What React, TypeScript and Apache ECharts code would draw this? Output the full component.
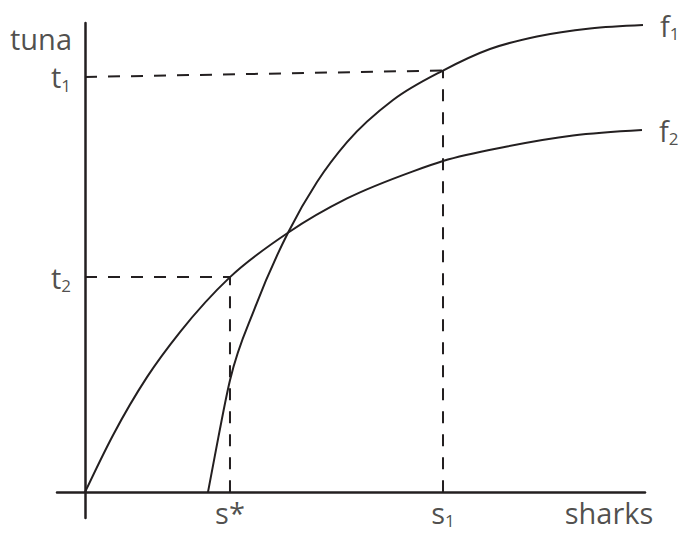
import React, { useEffect, useRef } from "react";
import * as echarts from "echarts";

// Curve f1 (x = sharks, y = tuna) (arbitrary units 0-100)
const f1X = [21.96, 23.21, 25.89, 30.36, 36.25, 41.43, 46.79, 55.0, 63.93, 72.32, 80.71, 90.18, 99.64];
const f1Y = [0, 7.89, 23.88, 39.34, 55.3, 66.1, 74.6, 83.58, 89.87, 94.46, 97.12, 98.83, 99.57];

// Curve f2
const f2X = [0, 5.0, 11.07, 16.96, 25.89, 36.25, 46.79, 58.57, 63.93, 75.36, 87.14, 99.46];
const f2Y = [0, 12.15, 24.52, 34.12, 45.84, 55.3, 62.6, 68.38, 70.58, 73.67, 76.01, 77.19];

// Marked values
const sStar = 25.89;
const s1 = 63.93;
const t2 = 45.84;
const t1 = 88.5; // where the dashed guide meets the tuna axis
const f1AtS1 = 89.87; // where the dashed guide meets f1

const xTickNames = ["s*", "s1"];
const xTickValues = [sStar, s1];
const yTickNames = ["t1", "t2"];
const yTickValues = [t1, t2];

const xAxisName = "sharks";
const yAxisName = "tuna";
const curveNames = ["f1", "f2"];

const INK = "#231f20";
const FONT = "Open Sans";

const rich = {
  m: { fontSize: 29, fontFamily: FONT, color: INK, lineHeight: 34 },
  s: { fontSize: 17, fontFamily: FONT, color: INK, lineHeight: 16, verticalAlign: "bottom" as const },
};

function sub(name: string) {
  const m = name.match(/^([a-z])(\d)$/);
  if (m) return `{m|${m[1]}}{s|${m[2]}}`;
  return `{m|${name}}`;
}

// Smooth (C1 cubic Hermite) path through the points, computed in pixel space
function smoothPath(pts: number[][]): string {
  const n = pts.length;
  const h: number[] = [];
  const d: number[] = [];
  for (let i = 0; i < n - 1; i++) {
    h[i] = pts[i + 1][0] - pts[i][0];
    d[i] = (pts[i + 1][1] - pts[i][1]) / h[i];
  }
  const m: number[] = new Array(n).fill(0);
  for (let i = 1; i < n - 1; i++) {
    m[i] = (d[i - 1] * h[i] + d[i] * h[i - 1]) / (h[i - 1] + h[i]);
  }
  m[0] = (3 * d[0] - m[1]) / 2;
  m[n - 1] = (3 * d[n - 2] - m[n - 2]) / 2;
  let s = `M${pts[0][0]},${pts[0][1]}`;
  for (let i = 0; i < n - 1; i++) {
    const [x0, y0] = pts[i];
    const [x1, y1] = pts[i + 1];
    const k = h[i] / 3;
    s += ` C${x0 + k},${y0 + m[i] * k} ${x1 - k},${y1 - m[i + 1] * k} ${x1},${y1}`;
  }
  return s;
}

function curveSeries(xs: number[], ys: number[], name: string) {
  return {
    type: "custom" as const,
    name,
    silent: true,
    coordinateSystem: "cartesian2d",
    data: [[xs[0], ys[0]]],
    renderItem: (_params: any, api: any) => {
      const pts = xs.map((x, i) => api.coord([x, ys[i]]));
      return {
        type: "path",
        shape: { pathData: smoothPath(pts) },
        style: { stroke: INK, lineWidth: 2, fill: "none" },
      };
    },
  };
}

export default function App() {
  const ref = useRef<HTMLDivElement>(null);
  useEffect(() => {
    if (!ref.current) return;
    const chart = echarts.init(ref.current, null, { renderer: "svg" });
    const dashed = { color: INK, width: 2, type: [12, 11] as number[] };
    const lineBase = { type: "line" as const, symbol: "none", silent: true };
    const labelScatter = (data: any[], label: any) => ({
      type: "scatter" as const,
      symbolSize: 0,
      silent: true,
      data,
      label: { show: true, formatter: (p: any) => sub(p.name), rich, ...label },
    });
    chart.setOption({
      animation: false,
      backgroundColor: "#ffffff",
      grid: { left: 57, right: 38, top: 23, bottom: 15, outerBoundsMode: "none" },
      xAxis: {
        type: "value",
        min: -5,
        max: 100,
        axisLine: { show: true, onZero: true, lineStyle: { color: INK, width: 2.5 } },
        axisTick: { show: false },
        axisLabel: { show: false },
        splitLine: { show: false },
      },
      yAxis: {
        type: "value",
        min: -5.5,
        max: 100,
        axisLine: { show: true, onZero: true, lineStyle: { color: INK, width: 2.5 } },
        axisTick: { show: false },
        axisLabel: { show: false },
        splitLine: { show: false },
      },
      series: [
        curveSeries(f1X, f1Y, curveNames[0]),
        curveSeries(f2X, f2Y, curveNames[1]),
        { ...lineBase, lineStyle: dashed, data: [[0, t1], [s1, f1AtS1]] },
        { ...lineBase, lineStyle: dashed, data: [[s1, 0], [s1, f1AtS1]] },
        { ...lineBase, lineStyle: dashed, data: [[0, t2], [sStar, t2]] },
        { ...lineBase, lineStyle: dashed, data: [[sStar, 0], [sStar, t2]] },
        labelScatter(
          [
            { value: [f1X[f1X.length - 1], f1Y[f1Y.length - 1]], name: curveNames[0] },
            { value: [f2X[f2X.length - 1], f2Y[f2Y.length - 1]], name: curveNames[1] },
          ],
          { position: "right", distance: 17 }
        ),
        labelScatter(
          yTickValues.map((v, i) => ({ value: [0, v], name: yTickNames[i] })),
          { position: "left", distance: 14 }
        ),
        labelScatter(
          xTickValues.map((v, i) => ({ value: [v, 0], name: xTickNames[i] })),
          { position: "bottom", distance: 3 }
        ),
        labelScatter([{ value: [0, 100], name: yAxisName }], {
          position: "left",
          distance: 13,
          offset: [0, 15],
        }),
        labelScatter([{ value: [100, 0], name: xAxisName }], {
          position: "bottom",
          distance: 3,
          offset: [-36, 0],
        }),
      ],
    });
    return () => chart.dispose();
  }, []);
  return (
    <div
      ref={ref}
      style={{ position: "absolute", left: 0, top: 0, width: 683, height: 533, background: "#fff" }}
    />
  );
}
